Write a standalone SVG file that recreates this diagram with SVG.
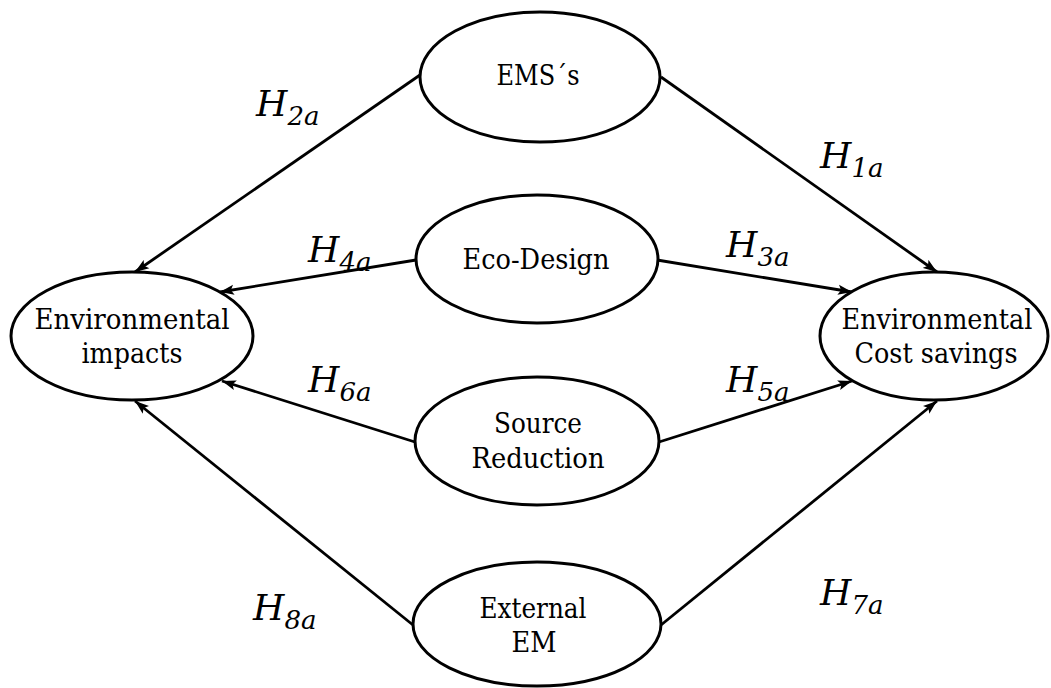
<svg xmlns="http://www.w3.org/2000/svg" width="1051" height="688" viewBox="0 0 1051 688">
  <style>
    .node ellipse { fill: #ffffff; stroke: #000000; stroke-width: 3; }
    .node text { font-size: 28px; fill: #000000; text-anchor: middle; }
    .edges line { stroke: #000000; stroke-width: 2.8; marker-end: url(#arrow); }
    .lbl { font-style: italic; fill: #000000; }
    .lbl .h { font-size: 36px; }
    .lbl .s { font-size: 26px; }
  </style>
  <defs>
    <marker id="arrow" markerUnits="userSpaceOnUse" markerWidth="15" markerHeight="11" refX="14" refY="5.5" orient="auto">
      <path d="M0,0.5 L14,5.5 L0,10.5 L3,5.5 z" fill="#000000"/>
    </marker>
  </defs>

  <rect width="1051" height="688" fill="#ffffff"/>

  <!-- connectors -->
  <g id="edges" class="edges">
    <line x1="420" y1="75" x2="135" y2="272"/>
    <line x1="661" y1="77" x2="937" y2="272"/>
    <line x1="416" y1="260" x2="220" y2="292"/>
    <line x1="657" y1="260" x2="852" y2="292"/>
    <line x1="415" y1="442" x2="222" y2="381"/>
    <line x1="659" y1="442" x2="852" y2="381"/>
    <line x1="413" y1="625" x2="135" y2="401"/>
    <line x1="661" y1="625" x2="937" y2="401"/>
  </g>

  <!-- hypothesis labels -->
  <g id="labels" class="lbl" font-family="'DejaVu Serif', 'Liberation Serif', serif">
    <text x="256" y="116"><tspan class="h">H</tspan><tspan class="s" dy="9">2a</tspan></text>
    <text x="820" y="168"><tspan class="h">H</tspan><tspan class="s" dy="9">1a</tspan></text>
    <text x="308" y="262"><tspan class="h">H</tspan><tspan class="s" dy="9">4a</tspan></text>
    <text x="726" y="257"><tspan class="h">H</tspan><tspan class="s" dy="9">3a</tspan></text>
    <text x="308" y="392"><tspan class="h">H</tspan><tspan class="s" dy="9">6a</tspan></text>
    <text x="726" y="392"><tspan class="h">H</tspan><tspan class="s" dy="9">5a</tspan></text>
    <text x="253" y="620"><tspan class="h">H</tspan><tspan class="s" dy="9">8a</tspan></text>
    <text x="820" y="605"><tspan class="h">H</tspan><tspan class="s" dy="9">7a</tspan></text>
  </g>

  <!-- nodes -->
  <g id="nodes" font-family="'DejaVu Serif', 'Liberation Serif', serif">
  <g id="node-ems" class="node">
    <ellipse cx="540" cy="77" rx="120" ry="65"/>
    <text x="538" y="85" textLength="83" lengthAdjust="spacingAndGlyphs">EMS´s</text>
  </g>
  <g id="node-eco-design" class="node">
    <ellipse cx="537" cy="259" rx="121" ry="64"/>
    <text x="536" y="269" textLength="147" lengthAdjust="spacingAndGlyphs">Eco-Design</text>
  </g>
  <g id="node-source-reduction" class="node">
    <ellipse cx="537" cy="441" rx="122" ry="64"/>
    <text x="538" y="433" textLength="88" lengthAdjust="spacingAndGlyphs">Source</text>
    <text x="538" y="468" textLength="133" lengthAdjust="spacingAndGlyphs">Reduction</text>
  </g>
  <g id="node-external-em" class="node">
    <ellipse cx="537" cy="624" rx="124" ry="62"/>
    <text x="533" y="618" textLength="107" lengthAdjust="spacingAndGlyphs">External</text>
    <text x="534" y="652" textLength="45" lengthAdjust="spacingAndGlyphs">EM</text>
  </g>
  <g id="node-env-impacts" class="node">
    <ellipse cx="132" cy="336" rx="121" ry="64"/>
    <text x="132" y="329" textLength="195" lengthAdjust="spacingAndGlyphs">Environmental</text>
    <text x="132" y="363" textLength="101" lengthAdjust="spacingAndGlyphs">impacts</text>
  </g>
  <g id="node-env-cost-savings" class="node">
    <ellipse cx="934" cy="336" rx="114" ry="64"/>
    <text x="937" y="329" textLength="191" lengthAdjust="spacingAndGlyphs">Environmental</text>
    <text x="936" y="363" textLength="163" lengthAdjust="spacingAndGlyphs">Cost savings</text>
  </g>
  </g>
</svg>
